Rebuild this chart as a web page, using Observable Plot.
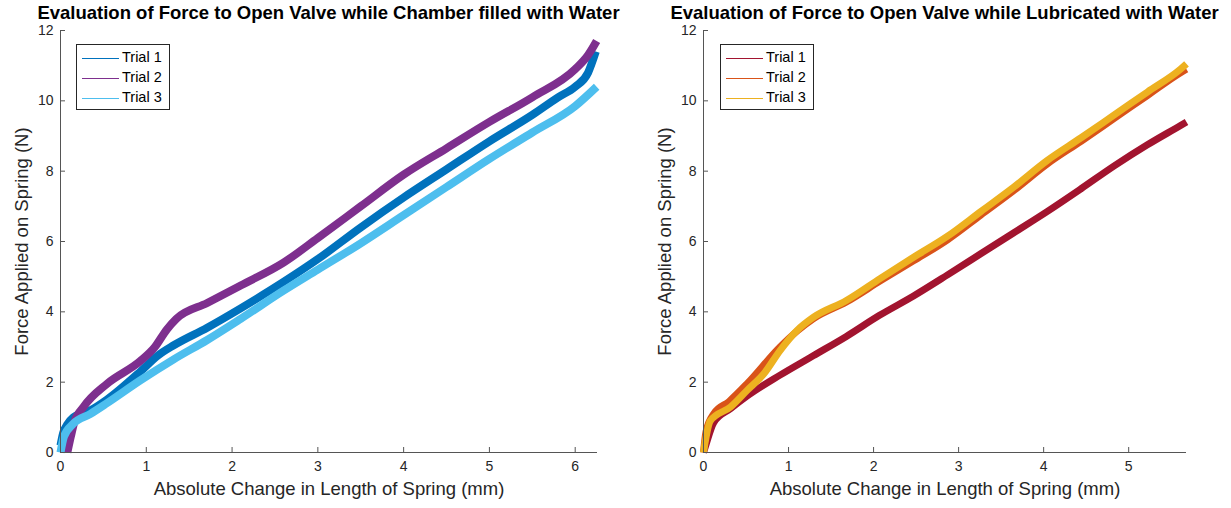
<!DOCTYPE html>
<html><head><meta charset="utf-8">
<script src="https://cdn.jsdelivr.net/npm/d3@7"></script>
<script src="https://cdn.jsdelivr.net/npm/@observablehq/plot@0.6"></script>
<style>
body{margin:0;background:#fff;font-family:"Liberation Sans",Arial,sans-serif}
#wrap{position:relative;width:1231px;height:508px;overflow:hidden}
.panel{position:absolute;top:0}
.title{position:absolute;top:2px;font-weight:bold;font-size:18.5px;white-space:nowrap;transform:translateX(-50%);color:#000}
.legend{position:absolute;border:1px solid #262626;background:#fff;font-size:14.5px;color:#000;box-sizing:border-box}
.row{position:absolute;left:0;height:20px;width:100%}
.row .ln{position:absolute;left:5px;top:10px;width:37px;height:1px}
.row .tx{position:absolute;left:45px;top:1px}
</style></head><body>
<div id="wrap"></div>
<script>
// ---------- data ----------
const ticksX1 = [0,1,2,3,4,5,6];
const ticksX2 = [0,1,2,3,4,5];
const ticksY = [0,2,4,6,8,10,12];

const titles = ["Evaluation of Force to Open Valve while Chamber filled with Water",
                "Evaluation of Force to Open Valve while Lubricated with Water"];
const xLabel = "Absolute Change in Length of Spring (mm)";
const yLabel = "Force Applied on Spring (N)";
const trialNames = ["Trial 1","Trial 2","Trial 3"];

// Left panel (chamber filled with water)
const w1x = [0,0.03,0.08,0.15,0.35,0.54,0.93,1.13,1.32,1.71,2.1,2.6,3,3.5,4,4.5,5,5.5,5.8,6,6.15,6.24];
const w1y = [0.2,0.55,0.8,1.0,1.2,1.5,2.3,2.75,3.05,3.55,4.1,4.85,5.5,6.4,7.25,8.05,8.85,9.6,10.1,10.4,10.8,11.4];
const w2x = [0.08,0.12,0.16,0.27,0.54,0.93,1.1,1.24,1.35,1.71,2.1,2.6,3,3.5,4,4.5,5,5.5,6,6.15,6.25];
const w2y = [0,0.45,0.85,1.3,1.95,2.6,3.0,3.5,3.8,4.25,4.75,5.4,6.1,7.0,7.9,8.65,9.4,10.1,10.9,11.3,11.7];
const w3x = [0,0.04,0.15,0.35,0.54,0.93,1.32,1.71,2.1,2.6,3,3.5,4,4.5,5,5.5,6,6.25];
const w3y = [0,0.45,0.82,1.1,1.4,2.05,2.65,3.2,3.8,4.6,5.2,5.95,6.75,7.55,8.35,9.1,9.85,10.4];

// Right panel (lubricated with water)
const l1x = [0,0.02,0.12,0.32,0.51,0.9,1.29,1.68,2.07,2.47,2.87,3.26,3.65,4.04,4.44,4.83,5.22,5.61,5.68];
const l1y = [0,0.15,0.85,1.25,1.6,2.2,2.75,3.3,3.9,4.45,5.05,5.65,6.25,6.85,7.5,8.15,8.75,9.3,9.4];
const l2x = [0,0.03,0.12,0.3,0.51,0.9,1.1,1.29,1.68,2.08,2.47,2.87,3.26,3.65,4.04,4.44,4.83,5.22,5.61,5.68];
const l2y = [0,0.6,1.1,1.45,1.95,3.0,3.45,3.8,4.28,4.88,5.45,6.05,6.75,7.45,8.2,8.85,9.5,10.15,10.8,10.9];
const l3x = [0,0.02,0.08,0.32,0.51,0.71,0.9,1.1,1.29,1.68,2.08,2.47,2.87,3.26,3.65,4.04,4.44,4.83,5.22,5.61,5.68];
const l3y = [0,0.3,0.9,1.3,1.76,2.24,2.9,3.47,3.84,4.32,4.95,5.55,6.15,6.85,7.55,8.3,8.95,9.6,10.25,10.9,11.05];

const colorsL = ["#0072BD","#7E2F8E","#4DBEEE"];
const colorsR = ["#A2142F","#D95319","#EDB120"];

// ---------- build ----------
function rows(xs, ys, name){ return xs.map((x,i)=>({x, y: ys[i], trial: name})); }
const dataL = [...rows(w1x,w1y,"Trial 1"),...rows(w2x,w2y,"Trial 2"),...rows(w3x,w3y,"Trial 3")];
const dataR = [...rows(l1x,l1y,"Trial 1"),...rows(l2x,l2y,"Trial 2"),...rows(l3x,l3y,"Trial 3")];

const wrap = document.getElementById("wrap");
const H = 508, MT = 30, MB = 56;
const innerH = H - MT - MB;

function panel({left, width, ml, mr, xmax, xticks, data, colors, title, legendLeft, sw}) {
  const innerW = width - ml - mr;
  const axisColor = "#262626";
  const chart = Plot.plot({
    width, height: H,
    marginLeft: ml, marginRight: mr, marginTop: MT, marginBottom: MB,
    style: {fontFamily: '"Liberation Sans", Arial, sans-serif', background: "transparent", color: axisColor},
    x: {domain: [0, xmax], label: null},
    y: {domain: [0, 12], label: null},
    color: {domain: trialNames, range: colors},
    marks: [
      Plot.line(data, {x: "x", y: "y", z: "trial", stroke: "trial", strokeWidth: sw, strokeLinejoin: "round", strokeLinecap: "butt", curve: "monotone-x"}),
      Plot.ruleY([0], {stroke: "#555", strokeWidth: 1}),
      Plot.ruleX([0], {stroke: "#555", strokeWidth: 1}),
      Plot.tickX(xticks, {x: d => d, stroke: "#555", insetTop: innerH - 5}),
      Plot.tickY(ticksY, {y: d => d, stroke: "#555", insetRight: innerW - 5}),
      Plot.axisX(xticks, {tickSize: 0, tickPadding: 9, fontSize: 14, label: null, fill: axisColor}),
      Plot.axisY(ticksY, {tickSize: 0, tickPadding: 7, fontSize: 14, label: null, fill: axisColor}),
      Plot.text([xLabel], {text: d => d, frameAnchor: "bottom", dy: 42, fontSize: 18.5, fill: axisColor}),
      Plot.text([yLabel], {text: d => d, frameAnchor: "left", textAnchor: "middle", dx: -38, rotate: -90, fontSize: 18.5, fill: axisColor})
    ]
  });
  const div = document.createElement("div");
  div.className = "panel";
  div.style.left = left + "px";
  div.appendChild(chart);
  wrap.appendChild(div);

  const t = document.createElement("div");
  t.className = "title";
  t.textContent = title;
  t.style.left = (left + ml + innerW / 2) + "px";
  wrap.appendChild(t);

  const lg = document.createElement("div");
  lg.className = "legend";
  lg.style.left = legendLeft + "px";
  lg.style.top = "44px";
  lg.style.width = "94px";
  lg.style.height = "66px";
  trialNames.forEach((n, i) => {
    const r = document.createElement("div");
    r.className = "row";
    r.style.top = (3 + i * 20) + "px";
    r.innerHTML = `<div class="ln" style="background:${colors[i]}"></div><div class="tx">${n}</div>`;
    lg.appendChild(r);
  });
  wrap.appendChild(lg);
}

panel({left: 0, width: 615, ml: 60, mr: 18, xmax: 6.26, xticks: ticksX1, data: dataL, colors: colorsL, title: titles[0], legendLeft: 76, sw: 8});
panel({left: 615, width: 616, ml: 88, mr: 45, xmax: 5.68, xticks: ticksX2, data: dataR, colors: colorsR, title: titles[1], legendLeft: 720, sw: 7});
</script>
</body></html>
